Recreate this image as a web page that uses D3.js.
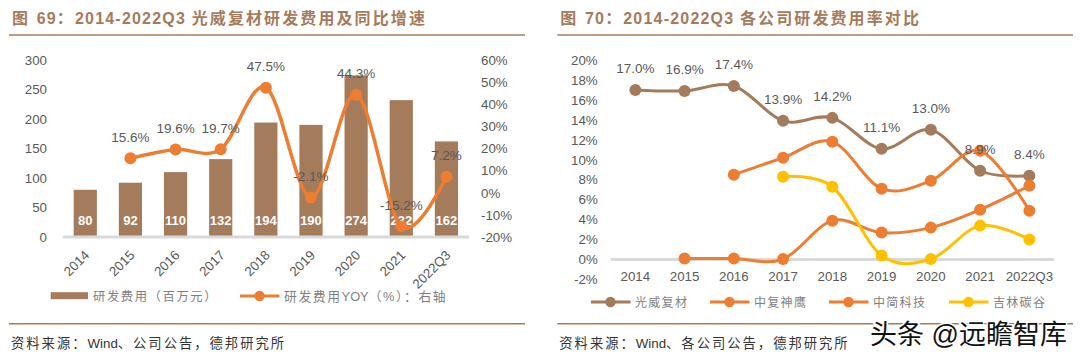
<!DOCTYPE html>
<html>
<head>
<meta charset="utf-8">
<script src="https://cdn.jsdelivr.net/npm/d3@7"></script>
<style>
  html, body { margin: 0; padding: 0; background: #fff; }
  svg { display: block; }
  text { font-family: "Liberation Sans", "Noto Sans CJK SC", sans-serif; }
</style>
</head>
<body>
<div id="viz"></div>
<script>
// DATA
let years = ["2014","2015","2016","2017","2018","2019","2020","2021","2022Q3"];

let rdCost = [80,92,110,132,194,190,274,232,162];
let rdYoy = [null,15.6,19.6,19.7,47.5,-2.1,44.3,-15.2,7.2];

let guangwei = [17.0,16.9,17.4,13.9,14.2,11.1,13.0,8.9,8.4];
let zhongfu = [null,null,8.5,10.2,11.8,7.1,7.9,10.9,4.9];
let zhongjian = [null,0.1,0.1,0.05,3.9,2.7,3.2,5.0,7.4];
let jilin = [null,null,null,8.3,7.3,0.4,0.05,3.4,2.0];

let leftTicks = [0,50,100,150,200,250,300];
let rightTicks = [-20,-10,0,10,20,30,40,50,60];
let rateTicks = [-2,0,2,4,6,8,10,12,14,16,18,20];

// global variables that we need at various spots:
let w = 1080;
let h = 357;
let brown = "#a47b5b";
let orange = "#ed7d31";
let yellow = "#ffc000";
let grey = "#595959";

let viz = d3.select("#viz")
  .append("svg")
    .attr("width", w)
    .attr("height", h)
;

// chinese and latin runs need different spacing, so each one gets a tspan
function mixedText(x, y, runs, color, size, cjkSpacing, latinSpacing, weight){
  let t = viz.append("text")
    .attr("x", x)
    .attr("y", y)
    .attr("fill", color)
    .attr("font-size", size)
    .attr("font-weight", weight || "normal")
  ;
  runs.split("|").forEach(function(run){
    let isLatin = /^[\x00-\x7f]+$/.test(run);
    t.append("tspan")
      .text(run)
      .attr("letter-spacing", isLatin ? latinSpacing : cjkSpacing)
    ;
  });
}

function frame(x0, x1, title, source){
  mixedText(x0 + 3, 23.5, title, brown, 16, 2.1, 1.2, "bold");
  viz.append("line").attr("x1", x0).attr("x2", x1).attr("y1", 35).attr("y2", 35)
    .attr("stroke", brown).attr("stroke-width", 1.6);
  viz.append("line").attr("x1", x0).attr("x2", x1).attr("y1", 323.7).attr("y2", 323.7)
    .attr("stroke", brown).attr("stroke-width", 1.6);
  mixedText(x0 + 2, 347.5, source, "#333", 13.3, 2, 0);
}

function styleAxis(g, size){
  g.select(".domain").remove();
  g.selectAll(".tick line").remove();
  g.selectAll("text").attr("fill", grey).attr("font-size", size);
}

function drawSeries(g, xScale, yScale, values, color, lineWidth){
  let points = years.map(function(d,i){
    return {year: d, value: values[i]};
  }).filter(function(d){
    return d.value !== null;
  });

  let lineMaker = d3.line()
    .x(function(d){ return xScale(d.year) + xScale.bandwidth()/2; })
    .y(function(d){ return yScale(d.value); })
    .curve(d3.curveCardinal.tension(0))
  ;

  g.append("path")
    .attr("d", lineMaker(points))
    .attr("fill", "none")
    .attr("stroke", color)
    .attr("stroke-width", lineWidth)
  ;

  g.selectAll(".dot").data(points).enter()
    .append("circle")
      .attr("cx", function(d){ return xScale(d.year) + xScale.bandwidth()/2; })
      .attr("cy", function(d){ return yScale(d.value); })
      .attr("r", 6)
      .attr("fill", color)
  ;
  return points;
}

function drawPointLabels(g, xScale, yScale, points){
  g.selectAll(".pointLabel").data(points).enter()
    .append("text")
      .text(function(d){ return d.value.toFixed(1) + "%"; })
      .attr("x", function(d){ return xScale(d.year) + xScale.bandwidth()/2; })
      .attr("y", function(d){ return yScale(d.value) - 16.5; })
      .attr("text-anchor", "middle")
      .attr("fill", grey)
      .attr("font-size", 13.5)
  ;
}

function legendLine(x, y, color, label, size, spacing){
  viz.append("line").attr("x1", x).attr("x2", x + 39.5).attr("y1", y).attr("y2", y)
    .attr("stroke", color).attr("stroke-width", 3);
  viz.append("circle").attr("cx", x + 19.5).attr("cy", y).attr("r", 5.2).attr("fill", color);
  mixedText(x + 44, y + 4.5, label, "#7f7f7f", size, spacing, 0);
}

// LEFT CHART
frame(9, 525, "图 |69|：|2014-2022Q3 |光威复材研发费用及同比增速", "资料来源：|Wind|、公司公告，德邦研究所");

let xLeft = d3.scaleBand().domain(years).range([62.7,469]);
let yCost = d3.scaleLinear().domain([0,300]).range([237,60]);
let yYoy = d3.scaleLinear().domain([-20,60]).range([237,60]);

viz.append("g")
  .attr("transform", "translate(47,0)")
  .call(d3.axisLeft(yCost).tickValues(leftTicks).tickSize(0).tickPadding(0))
  .call(styleAxis, 13.3)
;
viz.append("g")
  .attr("transform", "translate(481,0)")
  .call(d3.axisRight(yYoy).tickValues(rightTicks).tickSize(0).tickPadding(0)
    .tickFormat(function(d){ return d + "%"; }))
  .call(styleAxis, 13.3)
;

let leftChart = viz.append("g");

leftChart.selectAll(".bar").data(rdCost).enter()
  .append("rect")
    .attr("x", function(d,i){ return xLeft(years[i]) + xLeft.bandwidth()/2 - 11.6; })
    .attr("y", function(d){ return yCost(d); })
    .attr("width", 23.2)
    .attr("height", function(d){ return yCost(0) - yCost(d); })
    .attr("fill", brown)
;

leftChart.append("line")
  .attr("x1", 62.7).attr("x2", 469).attr("y1", 237).attr("y2", 237)
  .attr("stroke", "#d9d9d9").attr("stroke-width", 3);

leftChart.selectAll(".barLabel").data(rdCost).enter()
  .append("text")
    .text(function(d){ return d; })
    .attr("x", function(d,i){ return xLeft(years[i]) + xLeft.bandwidth()/2; })
    .attr("y", 225)
    .attr("text-anchor", "middle")
    .attr("fill", "#fff")
    .attr("font-weight", "bold")
    .attr("font-size", 13)
;

let yoyPoints = drawSeries(leftChart, xLeft, yYoy, rdYoy, orange, 3.5);
drawPointLabels(leftChart, xLeft, yYoy, yoyPoints);

// rotated year labels
viz.selectAll(".leftYear").data(years).enter()
  .append("text")
    .text(function(d){ return d; })
    .attr("text-anchor", "end")
    .attr("transform", function(d){
      return "translate(" + (xLeft(d) + xLeft.bandwidth()/2 + 5) + ",256) rotate(-45)";
    })
    .attr("fill", grey)
    .attr("font-size", 13.3)
;

viz.append("rect").attr("x", 50.7).attr("y", 292.2).attr("width", 37.3).attr("height", 7).attr("fill", brown);
mixedText(93, 300.5, "研发费用（百万元）", "#7f7f7f", 12.3, 1.6, 0);
legendLine(240, 296, orange, "研发费用|YOY|（%）：右轴", 12.8, 1.6);

// RIGHT CHART
frame(557.3, 1073, "图 |70|：|2014-2022Q3 |各公司研发费用率对比", "资料来源：|Wind|、各公司公告，德邦研究所");

let xRight = d3.scaleBand().domain(years).range([610.7,1054]);
let yRate = d3.scaleLinear().domain([-2,20]).range([279.5,60]);

viz.append("g")
  .attr("transform", "translate(597.7,0)")
  .call(d3.axisLeft(yRate).tickValues(rateTicks).tickSize(0).tickPadding(0)
    .tickFormat(function(d){ return d + "%"; }))
  .call(styleAxis, 13.3)
;

let rightChart = viz.append("g");

rightChart.append("line")
  .attr("x1", 610.7).attr("x2", 1054).attr("y1", yRate(0)).attr("y2", yRate(0))
  .attr("stroke", "#d9d9d9").attr("stroke-width", 3);

viz.append("g").selectAll("text").data(years).enter()
  .append("text")
    .text(function(d){ return d; })
    .attr("x", function(d){ return xRight(d) + xRight.bandwidth()/2; })
    .attr("y", 280.5)
    .attr("text-anchor", "middle")
    .attr("fill", grey)
    .attr("font-size", 13.3)
;

let guangweiPoints = drawSeries(rightChart.append("g"), xRight, yRate, guangwei, brown, 3);
drawSeries(rightChart.append("g"), xRight, yRate, zhongfu, orange, 3);
drawSeries(rightChart.append("g"), xRight, yRate, zhongjian, orange, 3);
drawSeries(rightChart.append("g"), xRight, yRate, jilin, yellow, 3);
drawPointLabels(rightChart.append("g"), xRight, yRate, guangweiPoints);

legendLine(591, 302, brown, "光威复材", 12, 1.3);
legendLine(710, 302, orange, "中复神鹰", 12, 1.3);
legendLine(829, 302, orange, "中简科技", 12, 1.3);
legendLine(949, 302, yellow, "吉林碳谷", 12, 1.3);

// watermark
viz.append("text")
  .text("头条 @远瞻智库")
  .attr("x", 870)
  .attr("y", 343.5)
  .attr("fill", "#111")
  .attr("stroke", "#fff")
  .attr("stroke-width", 3)
  .attr("paint-order", "stroke")
  .attr("font-size", 27)
;
</script>
</body>
</html>
